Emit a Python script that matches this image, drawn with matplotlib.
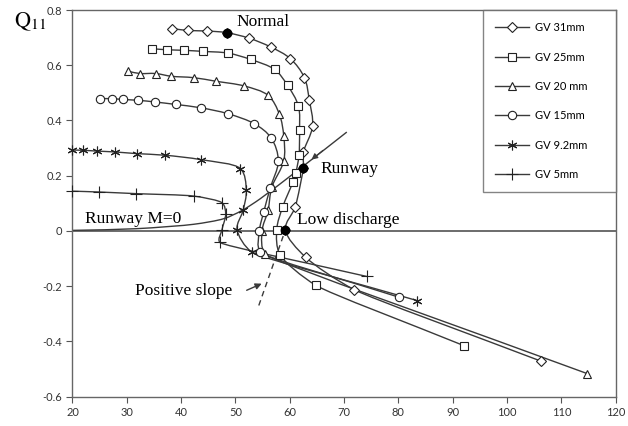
import numpy as np
import matplotlib
matplotlib.use("Agg")
import matplotlib.pyplot as plt
from matplotlib.path import Path
from matplotlib.patches import PathPatch

# --- data (x: speed, y: Q11) ---
gv31_x = [38.3, 41.2, 44.7, 48.4, 52.5, 56.5, 60.1, 62.7, 63.6, 64.2, 62.5, 62.5, 61.0, 59.2, 62.9, 71.9, 106.3]
gv31_y = [0.733, 0.726, 0.724, 0.718, 0.698, 0.666, 0.624, 0.555, 0.473, 0.379, 0.286, 0.229, 0.086, 0.004, -0.095, -0.213, -0.472]
gv25_x = [34.6, 37.4, 40.6, 44.1, 48.6, 52.8, 57.2, 59.6, 61.6, 61.8, 61.7, 61.1, 60.6, 58.7, 57.6, 58.2, 64.8, 92.0]
gv25_y = [0.660, 0.656, 0.654, 0.650, 0.644, 0.621, 0.585, 0.527, 0.452, 0.364, 0.274, 0.208, 0.177, 0.087, 0.005, -0.086, -0.197, -0.415]
gv20_x = [30.3, 32.4, 35.3, 38.2, 42.3, 46.4, 51.6, 56.0, 58.1, 58.9, 58.9, 56.7, 56.0, 54.9, 55.5, 114.8]
gv20_y = [0.578, 0.570, 0.570, 0.560, 0.555, 0.542, 0.525, 0.491, 0.422, 0.342, 0.253, 0.159, 0.074, 0.0, -0.085, -0.517]
gv15_x = [25.1, 27.2, 29.3, 32.1, 35.2, 39.0, 43.6, 48.7, 53.5, 56.6, 57.9, 56.4, 55.2, 54.4, 54.6, 80.1]
gv15_y = [0.479, 0.479, 0.476, 0.473, 0.467, 0.458, 0.446, 0.424, 0.388, 0.336, 0.253, 0.155, 0.068, 0.0, -0.077, -0.240]
gv92_x = [20.0, 22.0, 24.6, 27.8, 31.8, 37.1, 43.7, 50.9, 52.0, 51.4, 50.3, 53.0, 83.4]
gv92_y = [0.293, 0.292, 0.289, 0.286, 0.280, 0.274, 0.258, 0.226, 0.147, 0.074, 0.005, -0.077, -0.252]
gv5_x = [20.0, 24.8, 31.7, 42.4, 47.6, 48.2, 47.5, 47.1, 74.2]
gv5_y = [0.144, 0.141, 0.135, 0.126, 0.101, 0.060, 0.003, -0.041, -0.165]

runway_x = [20.0, 31.7, 42.3, 47.8, 51.2, 54.6, 62.5, 70.5]
runway_y = [0.002, 0.008, 0.024, 0.044, 0.074, 0.117, 0.235, 0.358]
slope_x = [54.3, 59.2]
slope_y = [-0.27, 0.004]

# operating points on GV 31mm: Normal, Runway, Low discharge
dots_x = [48.4, 62.5, 59.2]
dots_y = [0.718, 0.229, 0.004]

series = [
    ("GV 31mm", gv31_x, gv31_y, "D", 5),
    ("GV 25mm", gv25_x, gv25_y, "s", 6),
    ("GV 20 mm", gv20_x, gv20_y, "^", 6),
    ("GV 15mm", gv15_x, gv15_y, "o", 6),
    ("GV 9.2mm", gv92_x, gv92_y, (6, 2, 0), 7),
    ("GV 5mm", gv5_x, gv5_y, "+", 8),
]

SX, SY = 5.425, 276.0  # px per data unit, so smoothing is done in screen-like space


def smooth_path(xs, ys):
    p = np.column_stack([np.array(xs) * SX, np.array(ys) * SY])
    n = len(p)
    seg = [np.linalg.norm(p[i + 1] - p[i]) for i in range(n - 1)]
    tang = []
    for i in range(n):
        if i == 0:
            d = p[1] - p[0]
        elif i == n - 1:
            d = p[-1] - p[-2]
        else:
            a = p[i] - p[i - 1]
            b = p[i + 1] - p[i]
            d = a / (np.linalg.norm(a) + 1e-9) + b / (np.linalg.norm(b) + 1e-9)
        tang.append(d / (np.linalg.norm(d) + 1e-9))
    verts = [p[0]]
    codes = [Path.MOVETO]
    for i in range(n - 1):
        l_out = min(seg[i], seg[i - 1] if i > 0 else seg[i]) / 3.0
        l_in = min(seg[i], seg[i + 1] if i + 1 < n - 1 else seg[i]) / 3.0
        verts += [p[i] + tang[i] * l_out, p[i + 1] - tang[i + 1] * l_in, p[i + 1]]
        codes += [Path.CURVE4] * 3
    v = np.array(verts) / [SX, SY]
    return Path(v, codes)


plt.rcParams['font.family'] = ['Lato', 'DejaVu Sans']
plt.rcParams['mathtext.fontset'] = 'stix'

fig = plt.figure(figsize=(6.28, 4.26), dpi=100)
ax = fig.add_axes([0.1154, 0.069, 0.865, 0.9075])

line_col = '#3a3a3a'
ax.axhline(0, color='#444444', lw=1.1, zorder=1)

handles = []
for label, xs, ys, mk, ms in series:
    ax.add_patch(PathPatch(smooth_path(xs, ys), facecolor='none', edgecolor=line_col, lw=1.0, zorder=2))
    ax.plot(xs, ys, linestyle='none', marker=mk, ms=ms, mfc='white', mec='#222222', mew=0.8,
            zorder=3, clip_on=False)
    h, = ax.plot([], [], color=line_col, lw=1.0, marker=mk, ms=ms, mfc='white', mec='#222222', mew=0.8)
    handles.append((h, label))

ax.add_patch(PathPatch(smooth_path(runway_x, runway_y), facecolor='none', edgecolor=line_col, lw=1.0, zorder=2))
ax.plot(slope_x, slope_y, color=line_col, lw=1.0, ls=(0, (4, 3)), zorder=2)
ax.plot(dots_x, dots_y, 'o', color='black', ms=6, zorder=4)

serif = 'Liberation Serif'
ax.text(50.2, 0.757, 'Normal', family=serif, fontsize=12.5, va='center')
ax.text(65.6, 0.225, 'Runway', family=serif, fontsize=12.5, va='center')
ax.text(61.3, 0.038, 'Low discharge', family=serif, fontsize=12.5, va='center')
ax.text(22.3, 0.044, 'Runway M=0', family=serif, fontsize=12.5, va='center')
ax.text(31.5, -0.216, 'Positive slope', family=serif, fontsize=12.5, va='center')
ax.annotate('', xy=(55.3, -0.187), xytext=(51.6, -0.219),
            arrowprops=dict(arrowstyle='-|>', color=line_col, lw=1.0, mutation_scale=9))
ax.annotate('', xy=(63.6, 0.252), xytext=(66.5, 0.298),
            arrowprops=dict(arrowstyle='-|>', color=line_col, lw=0.8, mutation_scale=9))

fig.text(0.022, 0.948, r'$\mathrm{Q}_{11}$', fontsize=16, va='center')

ax.set_xlim(20, 120)
ax.set_ylim(-0.6, 0.8)
ax.set_xticks(np.arange(20, 121, 10))
ax.set_yticks(np.arange(-0.6, 0.81, 0.2))
ax.set_yticklabels(['-0.6', '-0.4', '-0.2', '0', '0.2', '0.4', '0.6', '0.8'])
ax.tick_params(direction='out', length=4, width=0.8, colors='#555555', labelcolor='#333333', labelsize=8)
for s in ax.spines.values():
    s.set_color('#666666')
    s.set_linewidth(1.0)

leg = ax.legend([h for h, _ in handles], [l for _, l in handles], loc='upper left',
                bbox_to_anchor=(0.756, 0.0, 0.244, 1.0), mode='expand', frameon=True, fancybox=False,
                fontsize=8, labelspacing=1.65, handlelength=3.0, handletextpad=0.6, borderpad=1.1,
                borderaxespad=0.0)
leg.get_frame().set_edgecolor('#666666')
leg.get_frame().set_linewidth(1.0)

fig.savefig('out.png', dpi=100)
